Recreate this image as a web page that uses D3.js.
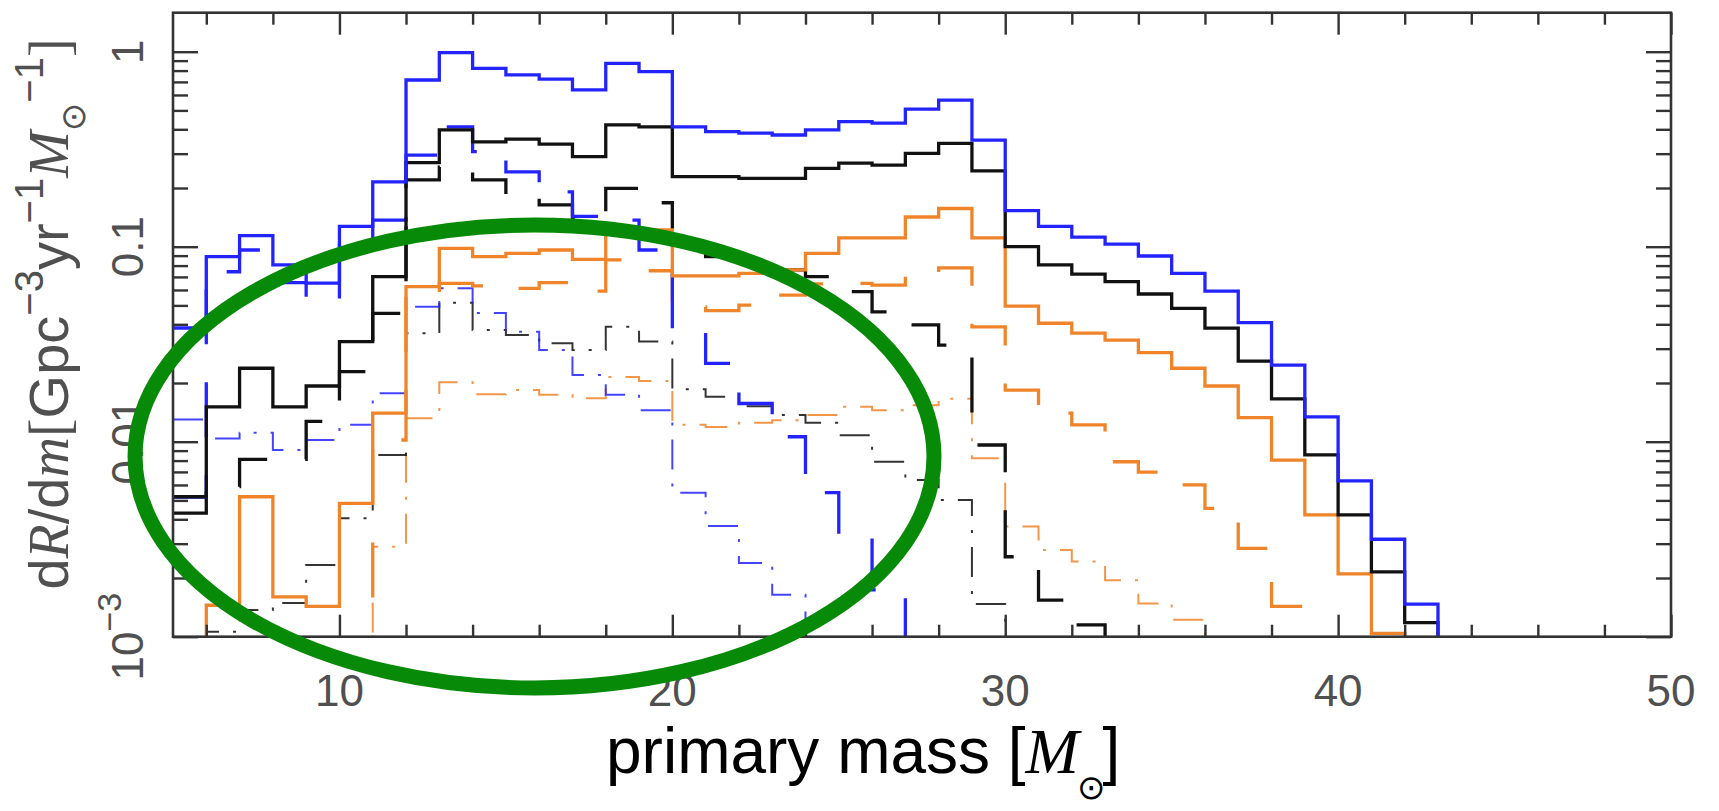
<!DOCTYPE html>
<html><head><meta charset="utf-8">
<script src="https://cdn.jsdelivr.net/npm/d3@7"></script>
<style>
html,body{margin:0;padding:0;background:#fff;}
svg{display:block;}
</style></head><body>
<svg id="chart" width="1719" height="811"></svg>
<script>
// ---- data (bin lower edges, bin width 1 Msun) ----
const binStarts = [5,6,7,8,9,10,11,12,13,14,15,16,17,18,19,20,21,22,23,24,25,26,27,28,29,30,31,32,33,34,35,36,37,38,39,40,41,42,43,44];

const blueSolid = [0.0383,0.0889,0.114,0.0806,0.0651,0.127,0.215,0.716,0.99,0.822,0.760,0.724,0.637,0.872,0.790,0.412,0.389,0.382,0.374,0.397,0.438,0.430,0.507,0.565,0.352,0.153,0.127,0.112,0.103,0.0896,0.0730,0.0592,0.0408,0.0247,0.0134,0.00629,0.00316,0.00147,null,null];
const blueDashed = [0.0052,0.0744,0.0962,0.0654,0.0533,0.102,0.137,0.295,0.412,0.307,0.242,0.191,0.143,0.137,0.0962,0.0382,0.0252,0.0157,0.0106,0.00548,0.00332,0.00174,null,null,null,null,null,null,null,null,null,null,null,null,null,null,null,null,null,null];
const blueDashDot = [0.013,0.0104,0.0111,0.00906,0.0102,0.0122,0.0177,0.0492,0.0612,0.0457,0.0366,0.0295,0.0220,0.0174,0.0145,0.00548,0.00370,0.00239,0.00164,null,null,null,null,null,null,null,null,null,null,null,null,null,null,null,null,null,null,null,null,null];

const blackSolid = [0.00522,0.0151,0.0238,0.0151,0.0193,0.0326,0.0702,0.270,0.397,0.345,0.356,0.336,0.290,0.421,0.412,0.229,0.229,0.224,0.224,0.252,0.268,0.262,0.301,0.339,0.245,0.100,0.0806,0.0724,0.0662,0.0572,0.0483,0.0382,0.0259,0.0166,0.00855,0.00421,0.00215,0.00118,null,null];
const blackDashed = [0.00430,0.00588,0.00812,0.00812,0.0127,0.0229,0.0455,0.220,0.256,0.220,0.181,0.164,0.140,0.199,0.168,0.108,0.0889,0.0835,0.0760,0.0702,0.0588,0.0463,0.0397,0.0313,0.00962,0.00257,0.00154,0.00115,null,null,null,null,null,null,null,null,null,null,null,null];
const blackDashDot = [null,0.00106,0.00137,0.00149,0.00233,0.00405,0.00855,0.0360,0.0516,0.0374,0.0353,0.0320,0.0295,0.0389,0.0326,0.0186,0.0170,0.0152,0.0137,0.0125,0.0108,0.00789,0.00636,0.00502,0.00147,null,null,null,null,null,null,null,null,null,null,null,null,null,null,null];

const orangeSolid = [null,0.00145,0.00522,0.00160,0.00143,0.00483,0.0140,0.0624,0.0981,0.0889,0.0925,0.0962,0.0862,0.125,0.122,0.0708,0.0708,0.0730,0.0760,0.0925,0.111,0.111,0.142,0.157,0.111,0.0496,0.0405,0.0360,0.0332,0.0286,0.0238,0.0193,0.0133,0.00805,0.00421,0.00210,0.00104,null,null,null];
const orangeDashed = [null,null,null,null,null,null,0.0102,0.0565,0.0649,0.0629,0.0612,0.0654,0.0592,0.0855,0.0753,0.0491,0.0470,0.0502,0.0565,0.0644,0.0649,0.0636,0.0720,0.0778,0.0388,0.0184,0.0140,0.0122,0.00789,0.00699,0.00600,0.00455,0.00284,0.00143,null,null,null,null,null,null];
const orangeDashDot = [null,null,null,null,null,null,0.00289,0.0132,0.0202,0.0175,0.0184,0.0174,0.0167,0.0215,0.0205,0.0122,0.0119,0.0125,0.0129,0.0137,0.0151,0.0145,0.0154,0.0166,0.00822,0.00367,0.00278,0.00243,0.00195,0.00148,0.00122,null,null,null,null,null,null,null,null,null];

const xMajorTicks = [10,20,30,40,50];
const xMinorTicks = [6,8,12,14,16,18,22,24,26,28,32,34,36,38,42,44,46,48];
const xTickLabels = ["10","20","30","40","50"];
const yMajorTicks = [1,0.1,0.01,0.001];
const yMinorTicks = [0.002,0.003,0.004,0.005,0.006,0.007,0.008,0.009,0.02,0.03,0.04,0.05,0.06,0.07,0.08,0.09,0.2,0.3,0.4,0.5,0.6,0.7,0.8,0.9];
const yTickLabels = [["1",""],["0.1",""],["0.01",""],["10","\u22123"]];

// annotation ellipse (data units): centre mass, centre rate, half-width in mass, half-height in decades
const ellipseMark = {cx:15.86, cy:0.0084, halfMass:12.0, halfDecades:1.187};

// ---- layout ----
const plot = {left:173, right:1671, top:12.7, bottom:636.7};
const BLUE = "#2323ff", BLACK = "#111111", ORANGE = "#f0842a";
const AXIS = "#333", LABEL = "#505050";

const svg = d3.select("#chart");
const x = d3.scaleLinear().domain([5,50]).range([plot.left, plot.right]);
const y = d3.scaleLog().domain([0.001, Math.pow(10,0.2)]).range([plot.bottom, plot.top]);

svg.append("defs").append("clipPath").attr("id","clip")
  .append("rect").attr("x",plot.left).attr("y",plot.top)
  .attr("width",plot.right-plot.left).attr("height",plot.bottom-plot.top);

const styles = {
  solid:   {w:3.3, dash:null},
  dashed:  {w:3.3, dash:"55,38"},
  dashdot: {w:2.0, dash:"30,14,3,14"}
};
const seriesList = [
  {v:orangeDashDot, c:ORANGE, s:"dashdot"},
  {v:blackDashDot,  c:BLACK,  s:"dashdot"},
  {v:blueDashDot,   c:BLUE,   s:"dashdot"},
  {v:orangeDashed,  c:ORANGE, s:"dashed"},
  {v:blackDashed,   c:BLACK,  s:"dashed"},
  {v:blueDashed,    c:BLUE,   s:"dashed"},
  {v:orangeSolid,   c:ORANGE, s:"solid"},
  {v:blackSolid,    c:BLACK,  s:"solid"},
  {v:blueSolid,     c:BLUE,   s:"solid"}
];
const line = d3.line();
function stepPoints(vals){
  const pts = [];
  vals.forEach((v,i)=>{
    const x0 = binStarts[i], x1 = x0+1;
    const yy = (v==null) ? plot.bottom + 40 : y(v);
    pts.push([x(x0), yy], [x(x1), yy]);
  });
  return pts;
}
const gLines = svg.append("g").attr("clip-path","url(#clip)");
seriesList.forEach(s=>{
  const st = styles[s.s];
  gLines.append("path")
    .attr("d", line(stepPoints(s.v)))
    .attr("fill","none")
    .attr("stroke", s.c)
    .attr("stroke-width", st.w)
    .attr("stroke-linejoin","miter")
    .attr("stroke-dasharray", st.dash)
    .attr("opacity", s.s==="dashdot" ? 0.85 : 1);
});

// ---- axes (ticks inward on all sides) ----
function styleAxis(g){
  g.select(".domain").remove();
  g.selectAll(".tick line").attr("stroke",AXIS).attr("stroke-width",2.4);
  g.selectAll(".tick text").remove();
}
const axes = svg.append("g");
axes.append("g").attr("transform",`translate(0,${plot.bottom})`)
  .call(d3.axisBottom(x).tickValues(xMajorTicks).tickSize(-22)).call(styleAxis);
axes.append("g").attr("transform",`translate(0,${plot.bottom})`)
  .call(d3.axisBottom(x).tickValues(xMinorTicks).tickSize(-12)).call(styleAxis);
axes.append("g").attr("transform",`translate(0,${plot.top})`)
  .call(d3.axisTop(x).tickValues(xMajorTicks).tickSize(-22)).call(styleAxis);
axes.append("g").attr("transform",`translate(0,${plot.top})`)
  .call(d3.axisTop(x).tickValues(xMinorTicks).tickSize(-12)).call(styleAxis);
axes.append("g").attr("transform",`translate(${plot.left},0)`)
  .call(d3.axisLeft(y).tickValues(yMajorTicks).tickSize(-25)).call(styleAxis);
axes.append("g").attr("transform",`translate(${plot.left},0)`)
  .call(d3.axisLeft(y).tickValues(yMinorTicks).tickSize(-15)).call(styleAxis);
axes.append("g").attr("transform",`translate(${plot.right},0)`)
  .call(d3.axisRight(y).tickValues(yMajorTicks).tickSize(-25)).call(styleAxis);
axes.append("g").attr("transform",`translate(${plot.right},0)`)
  .call(d3.axisRight(y).tickValues(yMinorTicks).tickSize(-15)).call(styleAxis);

svg.append("rect").attr("x",plot.left).attr("y",plot.top)
  .attr("width",plot.right-plot.left).attr("height",plot.bottom-plot.top)
  .attr("fill","none").attr("stroke",AXIS).attr("stroke-width",2.6);

// x tick labels
svg.append("g").selectAll("text").data(xMajorTicks).join("text")
  .attr("x", d=>x(d)).attr("y", 706)
  .attr("text-anchor","middle")
  .attr("font-family","Liberation Sans, Arial, sans-serif")
  .attr("font-size",44).attr("fill",LABEL)
  .text((d,i)=>xTickLabels[i]);

// y tick labels (rotated)
const yl = svg.append("g").selectAll("text").data(yMajorTicks).join("text")
  .attr("transform", d=>`translate(143,${y(d)}) rotate(-90)`)
  .attr("text-anchor","middle")
  .attr("font-family","Liberation Sans, Arial, sans-serif")
  .attr("font-size",44).attr("fill",LABEL);
yl.each(function(d,i){
  const t = d3.select(this);
  t.append("tspan").text(yTickLabels[i][0]);
  if (yTickLabels[i][1]) t.append("tspan").attr("font-size",34).attr("dy",-22).text(yTickLabels[i][1]);
});

// y axis title
const SANS = "Liberation Sans, Arial, sans-serif";
const SERIF = "Liberation Serif, Times New Roman, serif";
const ytitle = svg.append("text")
  .attr("transform","translate(68,314) rotate(-90)")
  .attr("text-anchor","middle")
  .attr("font-size",56).attr("fill",LABEL).attr("font-family",SANS);
const yParts = [
  {t:"d"}, {t:"R", f:SERIF, it:true}, {t:"/d"}, {t:"m", f:SERIF, it:true},
  {t:"[", f:SERIF}, {t:"Gpc"},
  {t:"\u22123", fs:40, dy:-25}, {t:"yr", dy:25},
  {t:"\u22121", fs:40, dy:-25}, {t:"M", f:SERIF, it:true, dy:25},
  {t:"\u2299", fs:34, dy:17, f:"DejaVu Sans"}, {t:"\u22121", fs:40, dy:-42},
  {t:"]", f:SERIF, dy:25}
];
yParts.forEach(p=>{
  const ts = ytitle.append("tspan").text(p.t);
  if (p.f) ts.attr("font-family", p.f);
  if (p.it) ts.attr("font-style","italic");
  if (p.fs) ts.attr("font-size", p.fs);
  if (p.dy) ts.attr("dy", p.dy);
});

// x axis title
const xt = svg.append("text").attr("x",606).attr("y",773)
  .attr("font-family",SANS).attr("font-size",64).attr("fill","#000");
xt.append("tspan").text("primary mass [");
xt.append("tspan").attr("font-family",SERIF).attr("font-style","italic").text("M");
xt.append("tspan").attr("font-family","DejaVu Sans").attr("font-size",34).attr("dy",26).attr("dx",-2).text("\u2299");
xt.append("tspan").attr("dy",-26).attr("dx",-3).text("]");

// annotation ellipse
const ecx = x(ellipseMark.cx), ecy = y(ellipseMark.cy);
const erx = x(ellipseMark.cx + ellipseMark.halfMass) - ecx;
const ery = y(ellipseMark.cy / Math.pow(10, ellipseMark.halfDecades)) - ecy;
svg.append("ellipse").attr("cx",ecx).attr("cy",ecy).attr("rx",erx).attr("ry",ery)
  .attr("fill","none").attr("stroke","#078a07").attr("stroke-width",15);
</script>
</body></html>
